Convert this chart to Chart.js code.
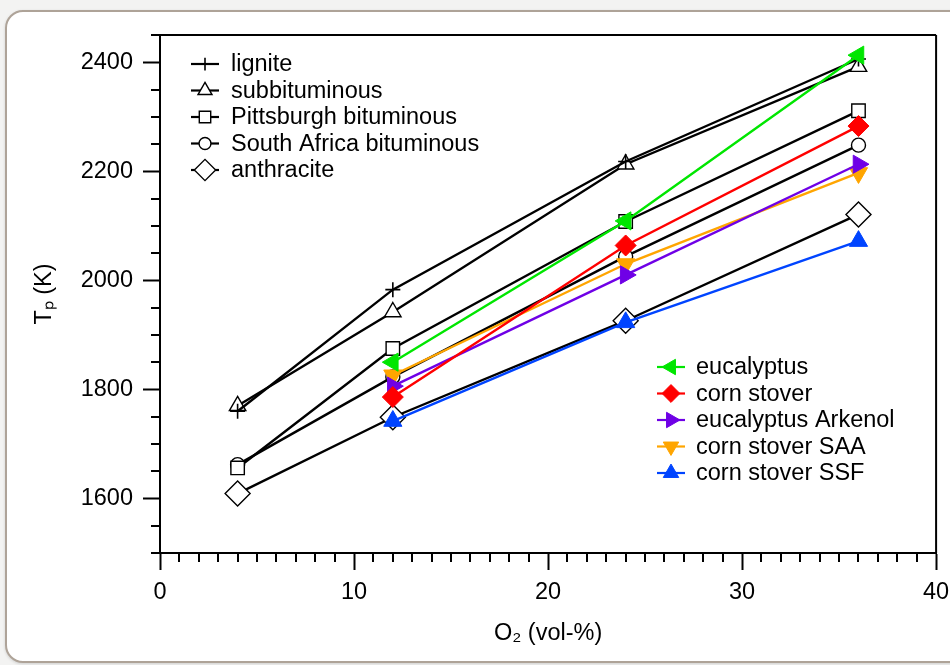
<!DOCTYPE html>
<html><head><meta charset="utf-8">
<script src="https://cdn.jsdelivr.net/npm/chart.js@4/dist/chart.umd.min.js"></script>
<style>
html,body{margin:0;padding:0;background:#f3f3f2;width:950px;height:665px;overflow:hidden;}
#panel{position:absolute;left:5px;top:10px;width:990px;height:649px;background:#fff;border:2px solid #aea398;border-radius:18px;box-shadow:0 1px 3px rgba(0,0,0,0.15);}
canvas{position:absolute;left:0;top:0;}
</style></head><body>
<div id="panel"></div>
<canvas id="c" width="950" height="665"></canvas>
<script>
// ---- data ----
const o2Coal = [4, 12, 24, 36];
const o2Bio = [12, 24, 36];
const lignite = [1760, 1983, 2218, 2406];
const subbituminous = [1770, 1942, 2213, 2392];
const pittsburgh = [1656, 1875, 2108, 2311];
const southAfrica = [1662, 1823, 2044, 2248];
const anthracite = [1609, 1749, 1926, 2121];
const eucalyptus = [1850, 2109, 2413];
const cornStover = [1786, 2064, 2283];
const eucalyptusArkenol = [1806, 2010, 2213];
const cornStoverSAA = [1826, 2030, 2197];
const cornStoverSSF = [1742, 1923, 2072];
const names = ['lignite','subbituminous','Pittsburgh bituminous','South Africa bituminous','anthracite',
  'eucalyptus','corn stover','eucalyptus Arkenol','corn stover SAA','corn stover SSF'];
const xMajor = [0, 10, 20, 30, 40];
const yMajor = [1600, 1800, 2000, 2200, 2400];

const FONT = '"Liberation Sans", Arial, Helvetica, sans-serif';
const FS = 23.5;
const pts = (xs, ys) => xs.map((x, i) => ({x: x, y: ys[i]}));

function coal(label, xs, ys, style, r, extra) {
  return Object.assign({label, data: pts(xs, ys), borderColor: '#000', borderWidth: 2.4,
    pointStyle: style, pointRadius: r, pointHoverRadius: r, pointBackgroundColor: '#fff',
    pointBorderColor: '#000', pointBorderWidth: 1.4, order: 2, tension: 0}, extra || {});
}
function bio(label, xs, ys, color, style, r, rot) {
  return {label, data: pts(xs, ys), borderColor: color, borderWidth: 2.4,
    pointStyle: style, pointRadius: r, pointHoverRadius: r, pointRotation: rot,
    pointBackgroundColor: color, pointBorderColor: color, pointBorderWidth: 1,
    order: 1, tension: 0};
}

const datasets = [
  coal(names[0], o2Coal, lignite, 'cross', 7.5, {pointBorderWidth: 1.6}),
  coal(names[1], o2Coal, subbituminous, 'triangle', 9.5),
  coal(names[2], o2Coal, pittsburgh, 'rect', 9.5),
  coal(names[3], o2Coal, southAfrica, 'circle', 7),
  coal(names[4], o2Coal, anthracite, 'rectRot', 12.5),
  bio(names[5], o2Bio, eucalyptus, '#00e600', 'triangle', 10.5, 270),
  bio(names[6], o2Bio, cornStover, '#ff0000', 'rectRot', 10.5, 0),
  bio(names[7], o2Bio, eucalyptusArkenol, '#6f00e6', 'triangle', 10.5, 90),
  bio(names[8], o2Bio, cornStoverSAA, '#ffa500', 'triangle', 10.5, 180),
  bio(names[9], o2Bio, cornStoverSSF, '#0044ff', 'triangle', 10.5, 0)
];

const framePlugin = {
  id: 'frame',
  afterDraw(chart) {
    const ctx = chart.ctx, a = chart.chartArea;
    const xs = chart.scales.x, ys = chart.scales.y;
    ctx.save();
    ctx.strokeStyle = '#000';
    ctx.lineWidth = 2;
    ctx.beginPath();
    ctx.moveTo(a.left, a.top); ctx.lineTo(a.right, a.top);
    ctx.moveTo(a.right, a.top); ctx.lineTo(a.right, a.bottom);
    // minor ticks
    xs.ticks.forEach(t => {
      if (xMajor.indexOf(t.value) < 0) {
        const p = Math.round(xs.getPixelForValue(t.value));
        ctx.moveTo(p, a.bottom); ctx.lineTo(p, a.bottom + 9);
      }
    });
    ys.ticks.forEach(t => {
      if (yMajor.indexOf(t.value) < 0) {
        const p = Math.round(ys.getPixelForValue(t.value));
        ctx.moveTo(a.left - 9, p); ctx.lineTo(a.left, p);
      }
    });
    ctx.stroke();

    // legends
    const drawLegend = (idxs, mx, tx, y0, dy) => {
      idxs.forEach((di, k) => {
        const ds = chart.data.datasets[di];
        const y = y0 + k * dy;
        ctx.strokeStyle = ds.borderColor;
        ctx.lineWidth = 2.2;
        ctx.beginPath();
        ctx.moveTo(mx - 14, y); ctx.lineTo(mx + 14, y);
        ctx.stroke();
        ctx.fillStyle = ds.pointBackgroundColor;
        ctx.strokeStyle = ds.pointBorderColor;
        ctx.lineWidth = ds.pointBorderWidth;
        Chart.helpers.drawPoint(ctx, {pointStyle: ds.pointStyle, radius: ds.pointRadius * 0.85,
          rotation: ds.pointRotation || 0, borderWidth: ds.pointBorderWidth}, mx, y);
        ctx.fillStyle = '#000';
        ctx.font = FS + 'px ' + FONT;
        ctx.textBaseline = 'middle';
        ctx.textAlign = 'left';
        ctx.fillText(ds.label, tx, y + 1);
      });
    };
    drawLegend([0,1,2,3,4], 205, 231, 64, 26.5);
    drawLegend([5,6,7,8,9], 671, 696, 367, 26.5);
    ctx.restore();
  }
};

new Chart(document.getElementById('c'), {
  type: 'line',
  data: {datasets},
  options: {
    responsive: false,
    animation: false,
    events: [],
    layout: {padding: {top: 35, right: 0, left: 0, bottom: 0}},
    plugins: {legend: {display: false}, tooltip: {enabled: false}},
    scales: {
      x: {
        type: 'linear', min: 0, max: 40,
        afterFit: s => { s.height = 112; s.paddingRight = 12; s.paddingLeft = 0; },
        ticks: {stepSize: 1, autoSkip: false, maxRotation: 0, maxTicksLimit: 1000,
          color: '#000', font: {size: FS, family: FONT}, padding: 8,
          callback: v => (xMajor.indexOf(v) >= 0 ? String(v) : '')},
        grid: {drawOnChartArea: false, drawTicks: true, tickLength: 17, tickWidth: 2,
          tickColor: c => (c.tick && xMajor.indexOf(c.tick.value) >= 0 ? '#000' : 'rgba(0,0,0,0)')},
        border: {display: true, color: '#000', width: 2},
        title: {display: true, text: 'O₂ (vol-%)', color: '#000',
          font: {size: FS, family: FONT}, padding: {top: 0, bottom: 17}}
      },
      y: {
        type: 'linear', min: 1500, max: 2450,
        afterFit: s => { s.width = 160; },
        ticks: {stepSize: 50, autoSkip: false, maxTicksLimit: 1000,
          color: '#000', font: {size: FS, family: FONT}, padding: 10,
          callback: v => (yMajor.indexOf(v) >= 0 ? String(v) : '')},
        grid: {drawOnChartArea: false, drawTicks: true, tickLength: 17, tickWidth: 2,
          tickColor: c => (c.tick && yMajor.indexOf(c.tick.value) >= 0 ? '#000' : 'rgba(0,0,0,0)')},
        border: {display: true, color: '#000', width: 2},
        title: {display: true, text: 'Tₚ (K)', color: '#000',
          font: {size: FS, family: FONT}, padding: {top: 30, bottom: 0}}
      }
    }
  },
  plugins: [framePlugin]
});
</script>
</body></html>
